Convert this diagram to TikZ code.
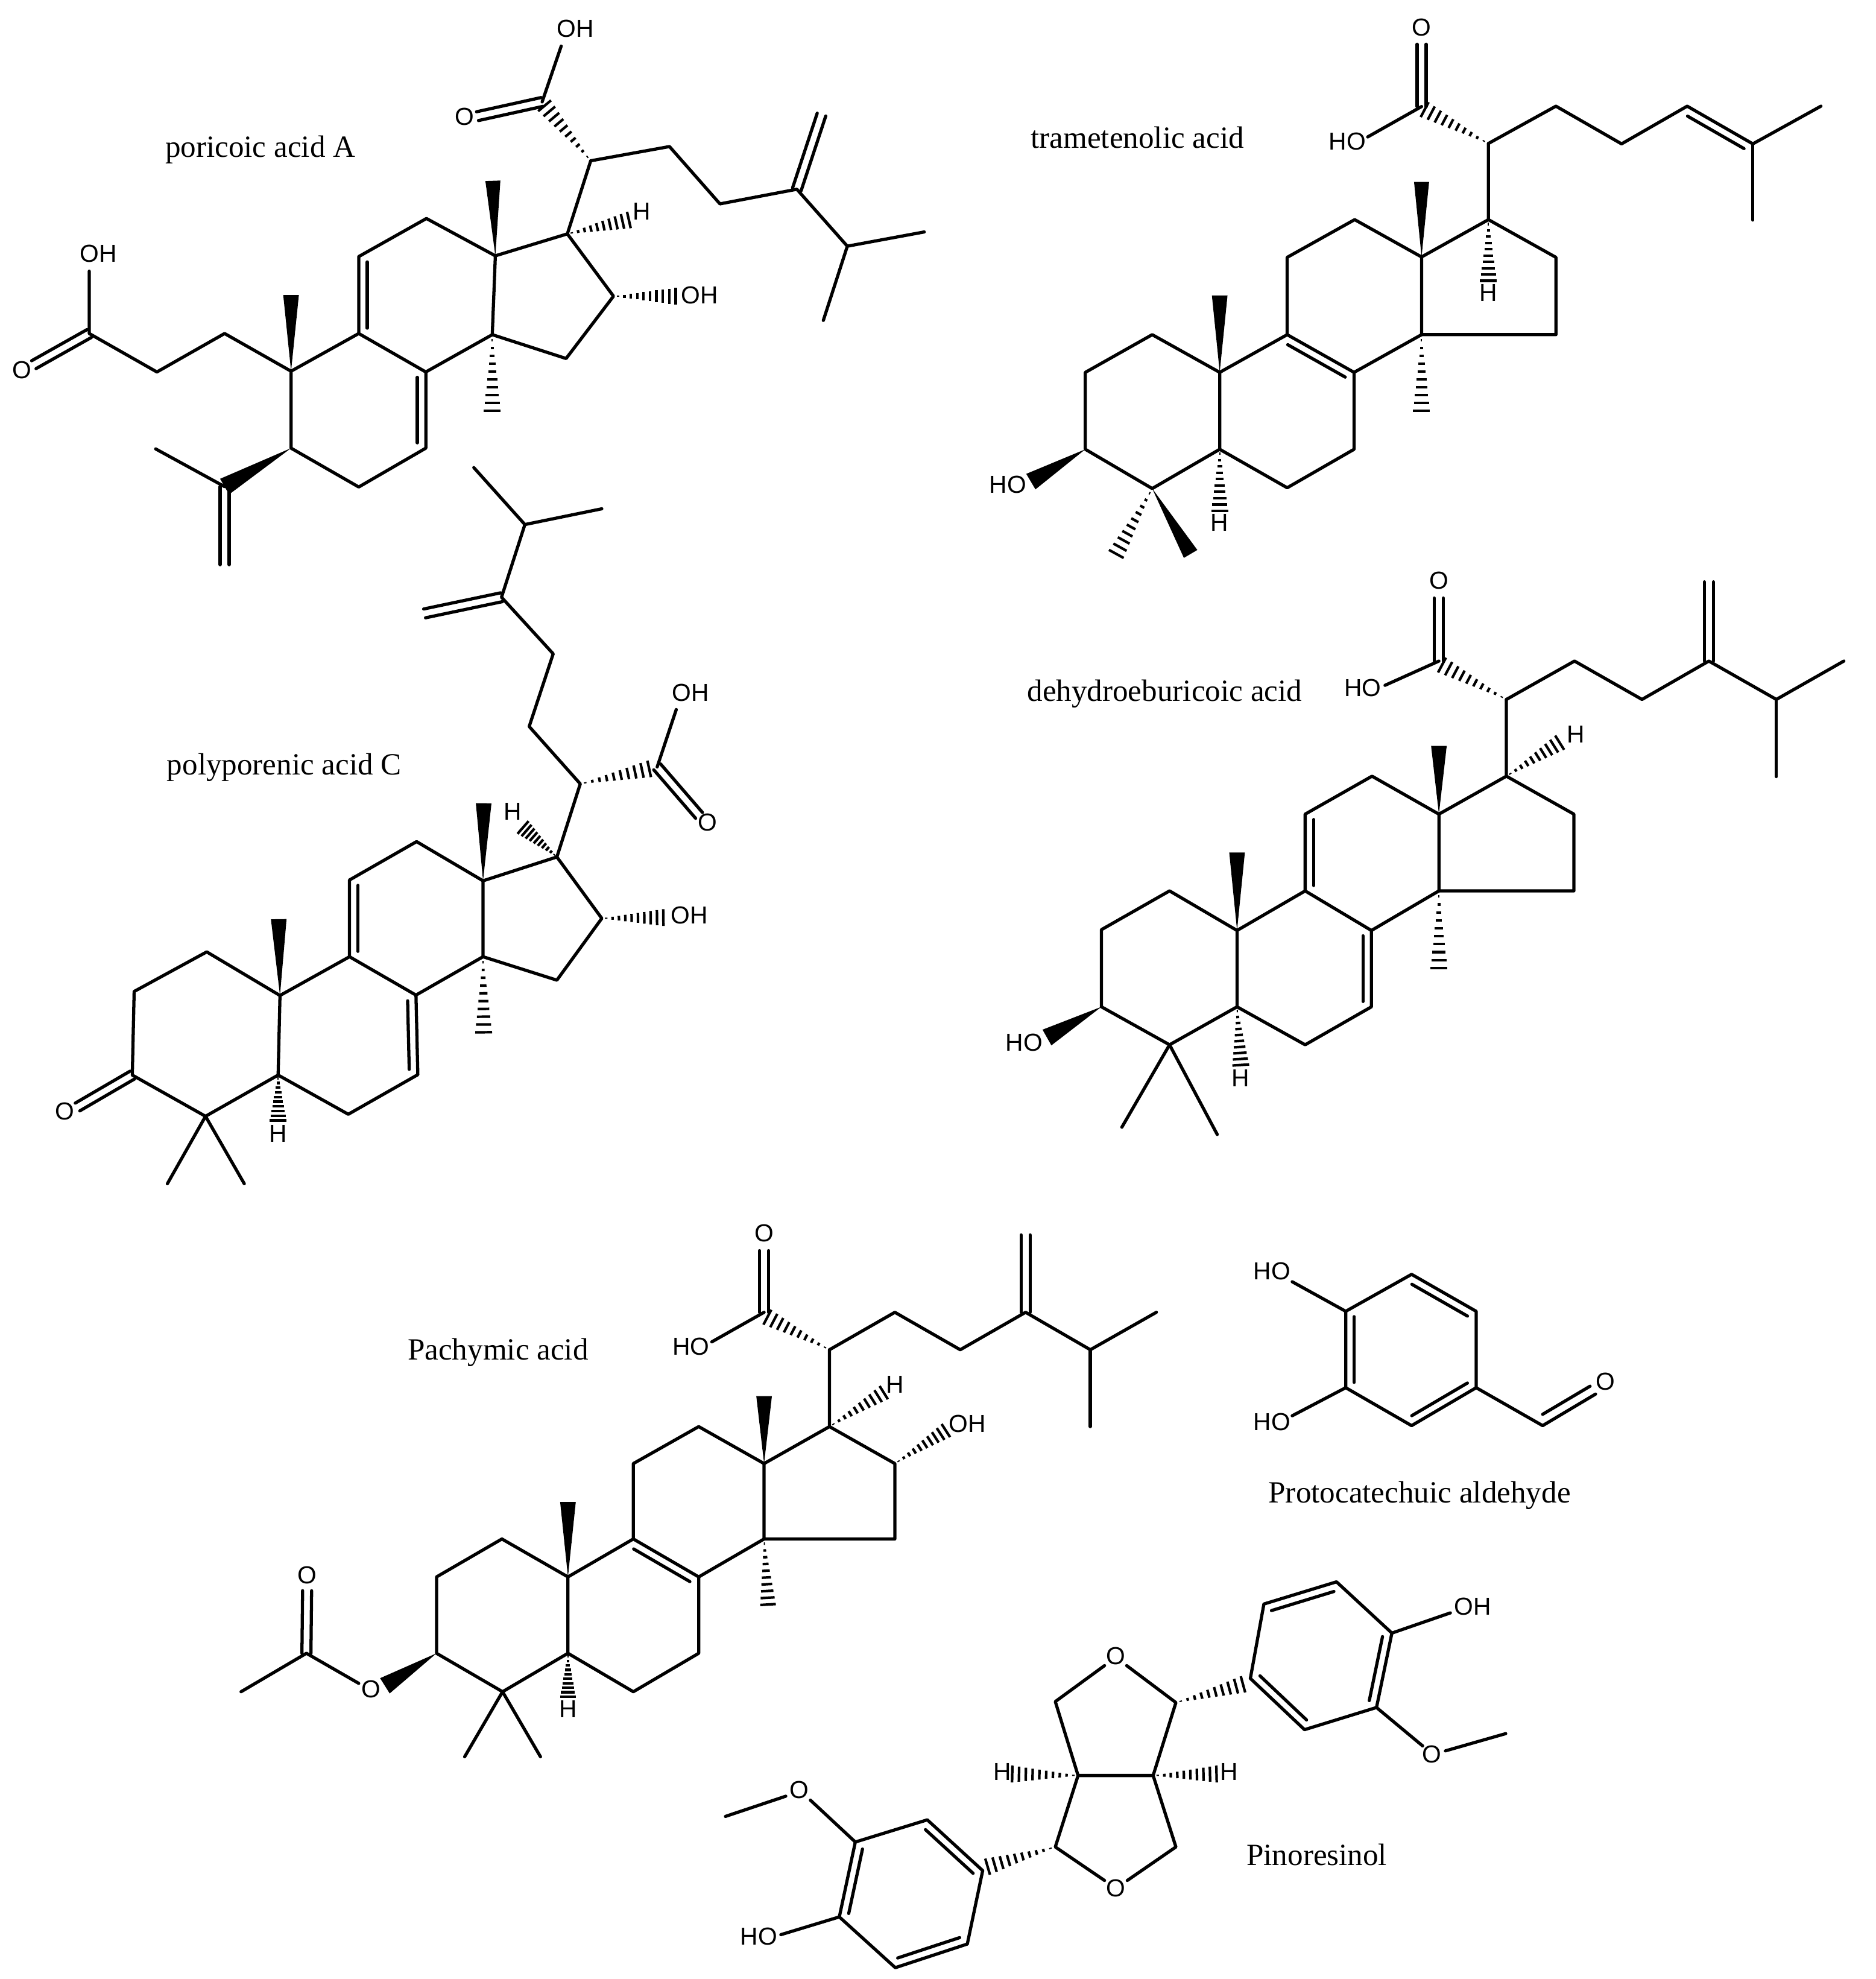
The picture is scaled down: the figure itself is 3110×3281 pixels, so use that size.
\documentclass[tikz,border=0pt]{standalone}
\usepackage{fontspec}
\setmainfont{Liberation Serif}
\setsansfont{Liberation Sans}
\usetikzlibrary{calc}
\tikzset{
  bond/.style={line width=3pt,line cap=round,line join=round,black},
  hashline/.style={line width=2.4pt,black},
  atomlab/.style={inner sep=0pt,font=\fontsize{23.2pt}{24pt}\selectfont\sffamily},
  complab/.style={inner sep=0pt,anchor=base,font=\fontsize{29.1pt}{30pt}\selectfont\rmfamily},
}
\newcommand\setzoom[4]{\def\ox{#1}\def\oy{#2}\def\sx{#3}\def\sy{#4}}
\newcommand\atoms[1]{\foreach \nm/\x/\y in {#1}{\coordinate (\nm) at ({\ox+\x*\sx},{\oy+\y*\sy});}}
\newcommand\labs[1]{\foreach \nm/\x/\y/\lbl in {#1}{\node[atomlab] (\nm) at ({\ox+\x*\sx},{\oy+\y*\sy}) {\lbl};}}
\newcommand\hashb[3]{\foreach \ii in {1,...,10}{%
  \pgfmathsetmacro\hf{(\ii-.3)/9.7}\pgfmathsetmacro\hw{\hf*#3*.2835}%
  \coordinate (tmp) at ($(#1)!\hf!(#2)$);
  \draw[hashline] ($(tmp)!\hw pt!90:(#1)$) -- ($(tmp)!\hw pt!-90:(#1)$);}}
\newcommand\wdg[3]{\pgfmathsetmacro\hw{#3*.2835}%
  \fill[black,line join=round] ($(#2)!\hw pt!90:(#1)$) -- (#1) -- ($(#2)!\hw pt!-90:(#1)$) -- cycle;}
\newcommand\dblc[2]{%
  \draw[bond] ($(#1)!4.25pt!90:(#2)$) -- ($(#2)!4.25pt!-90:(#1)$);
  \draw[bond] ($(#1)!4.25pt!-90:(#2)$) -- ($(#2)!4.25pt!90:(#1)$);}
\newcommand\inn[3]{%
  \draw[bond] ($(#1)!.07!(#2)!8pt!#3:(#2)$) -- ($(#2)!.07!(#1)!8pt!-#3:(#1)$);}
\begin{document}
\begin{tikzpicture}[x=0.02cm,y=-0.02cm]
\useasboundingbox (0,0) rectangle (3110,3281);
\fill[white] (0,0) rectangle (3110,3281);

% ---------- poricoic acid A
\begin{scope}[name prefix=pa-]
\setzoom{0}{0}{1.02041}{.63776}
\atoms{c/881/265,oh/912/120,oe/776/302,d/960/418,hc/885/275,e/1088/381,f/1170/530,g/1295/492,h/1335/298,i/1377/640,j/1502/603,k/1338/833,l/922/608,hh/1022/572,m/997/770,mo/1098/770,n/920/932,o/800/870,p/805/665,pm/801/470,q/693/568,r/583/667,s/583/867,t/692/967,om/800/1068,u/692/1165,v/583/1266,w/473/1165,x/473/965,xm/473/767,y/365/867,z/255/967,c2/145/867,oh2/145/705,oe2/55/948,aa/365/1265,ab/253/1167,ac/365/1468}
\labs{l1/935/75/OH,l2/755/303/O,l3/1043/550/H,l4/1137/768/OH,l5/160/660/OH,l6/36/962/O}
\draw[bond] (oh)--(c);
\dblc{c}{oe}
\hashb{d}{hc}{28}
\draw[bond] (d)--(e)--(f)--(g)--(i)--(j);
\dblc{g}{h}
\draw[bond] (i)--(k);
\draw[bond] (d)--(l)--(m)--(n)--(o)--(p)--(l);
\hashb{l}{hh}{28}
\hashb{m}{mo}{28}
\wdg{p}{pm}{25}
\draw[bond] (p)--(q)--(r)--(s)--(t)--(u)--(v)--(w)--(x)--(s);
\inn{r}{s}{90}
\inn{t}{u}{-90}
\draw[bond] (t)--(o);
\hashb{o}{om}{28}
\wdg{x}{xm}{26}
\draw[bond] (x)--(y)--(z)--(c2)--(oh2);
\dblc{c2}{oe2}
\wdg{w}{aa}{30}
\draw[bond] (aa)--(ab);
\dblc{aa}{ac}
\node[complab] (name) at ({423*\sx},{408*\sy}) {poricoic acid A};
\end{scope}

% ---------- trametenolic acid
\begin{scope}[name prefix=ta-]
\setzoom{1500}{0}{1.02679}{.63776}
\atoms{c/835/277,oe/835/115,oh/748/356,d/943/373,hc/840/285,e/1052/276,f/1158/374,g/1264/276,h/1370/374,h1/1480/276,h2/1370/572,l/943/571,lh/943/730,m/1052/669,n/1052/870,o/835/870,p/835/668,pm/835/473,q/727/571,r/618/669,s/618/870,t/726/968,om/835/1068,u/726/1168,v/618/1268,w/509/1168,x/509/968,xm/509/768,y/400/870,z/292/968,aa/292/1168,bb/400/1270,ho/204/1252,bm1/342/1440,bm2/462/1440,wh/509/1328}
\labs{l1/835/72/O,l2/715/367/HO,l3/943/762/H,l4/167/1260/HO,l5/509/1358/H}
\dblc{c}{oe}
\draw[bond] (oh)--(c);
\hashb{d}{hc}{28}
\draw[bond] (d)--(e)--(f)--(g)--(h)--(h1);
\inn{g}{h}{-90}
\draw[bond] (h)--(h2);
\draw[bond] (d)--(l)--(m)--(n)--(o)--(p)--(l);
\hashb{l}{lh}{28}
\wdg{p}{pm}{25}
\draw[bond] (p)--(q)--(r)--(s)--(t)--(u)--(v)--(w)--(x)--(s);
\inn{s}{t}{-90}
\draw[bond] (t)--(o);
\hashb{o}{om}{28}
\wdg{x}{xm}{26}
\draw[bond] (x)--(y)--(z)--(aa)--(bb)--(w);
\wdg{aa}{ho}{30}
\hashb{bb}{bm1}{28}
\wdg{bb}{bm2}{26}
\hashb{w}{wh}{28}
\node[complab] (name) at ({\ox+376*\sx},{385*\sy}) {trametenolic acid};
\end{scope}

% ---------- polyporenic acid C
\begin{scope}[name prefix=pc-]
\setzoom{0}{950}{1.02041}{.66964}
\atoms{i1/770/-261,i2/853/-120,i3/978/-159,a/815/60,ae/690/100,b/899/200,bb2/860/380,d/943/522,hc/1055/485,c/1068/480,oh/1099/338,oe/1136/600,l/905/703,lh/850/630,m/978/855,mo/1078/853,n/905/1008,o/785/950,p/785/762,pm/786/570,q/677/665,r/568/760,s/568/950,t/676/1045,om/786/1137,u/679/1242,v/566/1340,w/452/1243,wh/452/1355,x/455/1046,xm/453/857,y/336/938,z/218/1036,aa/215/1243,oe2/126/1322,bb/334/1345,b1/272/1512,b2/397/1512}
\labs{l1/1122/297/OH,l2/1150/618/O,l3/833/590/H,l4/1120/848/OH,l5/105/1332/O,l6/452/1388/H}
\draw[bond] (i1)--(i2)--(i3);
\draw[bond] (i2)--(a)--(b)--(bb2)--(d)--(l)--(m)--(n)--(o)--(p)--(l);
\dblc{a}{ae}
\hashb{d}{hc}{28}
\draw[bond] (c)--(oh);
\dblc{c}{oe}
\hashb{l}{lh}{28}
\hashb{m}{mo}{28}
\wdg{p}{pm}{26}
\draw[bond] (p)--(q)--(r)--(s)--(t)--(u)--(v)--(w)--(x)--(s);
\inn{r}{s}{90}
\inn{t}{u}{-90}
\draw[bond] (t)--(o);
\hashb{o}{om}{28}
\wdg{x}{xm}{26}
\draw[bond] (x)--(y)--(z)--(aa)--(bb)--(w);
\dblc{aa}{oe2}
\draw[bond] (b1)--(bb)--(b2);
\hashb{w}{wh}{28}
\node[complab] (name) at ({462*\sx},{\oy+500*\sy}) {polyporenic acid C};
\end{scope}

% ---------- dehydroeburicoic acid
\begin{scope}[name prefix=da-]
\setzoom{1500}{950}{1.02679}{.66964}
\atoms{c/863/218,oe/863/62,oh/776/278,d/972/313,hc/868/228,e/1082/218,f/1191/313,g/1299/218,ge/1299/22,h/1408/313,h1/1517/218,h2/1408/504,l/972/503,lh/1058/420,m/1081/597,n/1081/787,o/863/787,p/863/597,pm/863/428,q/755/503,r/647/597,s/647/787,t/754/885,om/863/978,u/754/1074,v/647/1168,w/537/1074,x/537/885,xm/537/692,y/428/787,z/318/883,aa/318/1074,bb/428/1168,ho/230/1150,b1/351/1372,b2/505/1390,wh/543/1218}
\labs{l1/863/18/O,l2/740/285/HO,l3/1084/400/H,l4/193/1162/HO,l5/543/1250/H}
\dblc{c}{oe}
\draw[bond] (oh)--(c);
\hashb{d}{hc}{28}
\draw[bond] (d)--(e)--(f)--(g)--(h)--(h1);
\dblc{g}{ge}
\draw[bond] (h)--(h2);
\draw[bond] (d)--(l)--(m)--(n)--(o)--(p)--(l);
\hashb{l}{lh}{28}
\wdg{p}{pm}{26}
\draw[bond] (p)--(q)--(r)--(s)--(t)--(u)--(v)--(w)--(x)--(s);
\inn{r}{s}{90}
\inn{t}{u}{-90}
\draw[bond] (t)--(o);
\hashb{o}{om}{28}
\wdg{x}{xm}{26}
\draw[bond] (x)--(y)--(z)--(aa)--(bb)--(w);
\wdg{aa}{ho}{30}
\draw[bond] (b1)--(bb)--(b2);
\hashb{w}{wh}{28}
\node[complab] (name) at ({\ox+420*\sx},{\oy+318*\sy}) {dehydroeburicoic acid};
\end{scope}

% ---------- Pachymic acid
\begin{scope}[name prefix=pm-]
\setzoom{300}{2000}{1.08418}{.81696}
\atoms{c/892/215,oe/892/90,oh/812/275,d/992/291,hc/897/225,e/1092/215,f/1192/291,g/1292/215,ge/1292/58,h/1391/291,h1/1492/215,h2/1391/447,l/992/447,lh/1075/378,m/1092/522,mo/1170/455,n/1092/675,o/892/675,p/892/522,pm/892/385,q/792/447,r/692/522,s/692/675,t/792/752,om/898/808,u/792/907,v/692/985,w/592/907,wh/592/995,x/592/752,xm/592/600,y/491/675,z/391/752,aa/391/907,bb/492/985,ao/312/973,oa/272/968,ac/192/907,ad/92/985,ae/193/780,b1/434/1117,b2/550/1117}
\labs{l1/892/55/O,l2/780/285/HO,l3/1092/362/H,l4/1203/441/OH,l5/291/980/O,l6/193/748/O,l7/592/1020/H}
\dblc{c}{oe}
\draw[bond] (oh)--(c);
\hashb{d}{hc}{28}
\draw[bond] (d)--(e)--(f)--(g)--(h)--(h1);
\dblc{g}{ge}
\draw[bond] (h)--(h2);
\draw[bond] (d)--(l)--(m)--(n)--(o)--(p)--(l);
\hashb{l}{lh}{26}
\hashb{m}{mo}{26}
\wdg{p}{pm}{26}
\draw[bond] (p)--(q)--(r)--(s)--(t)--(u)--(v)--(w)--(x)--(s);
\inn{s}{t}{-90}
\draw[bond] (t)--(o);
\hashb{o}{om}{26}
\wdg{x}{xm}{26}
\draw[bond] (x)--(y)--(z)--(aa)--(bb)--(w);
\wdg{aa}{ao}{30}
\draw[bond] (oa)--(ac)--(ad);
\dblc{ac}{ae}
\draw[bond] (b1)--(bb)--(b2);
\hashb{w}{wh}{26}
\node[complab] (name) at ({\ox+485*\sx},{\oy+312*\sy}) {Pachymic acid};
\end{scope}

% ---------- Protocatechuic aldehyde
\begin{scope}[name prefix=pr-]
\setzoom{1150}{2000}{1.02041}{.81696}
\atoms{a/1060/213,b/1167/138,c/1272/213,d/1272/368,e/1167/445,f/1060/368,h1/973/153,h2/973/425,g/1380/445,oe/1466/381,ui/1380/422,uo/1457/365}
\labs{l1/940/132/HO,l2/940/438/HO,l3/1482/355/O}
\draw[bond] (a)--(b)--(c)--(d)--(e)--(f)--(a);
\inn{a}{f}{90}
\inn{b}{c}{-90}
\inn{d}{e}{-90}
\draw[bond] (h1)--(a);
\draw[bond] (h2)--(f);
\draw[bond] (d)--(g)--(oe);
\draw[bond] (ui)--(uo);
\node[complab] (name) at ({\ox+1180*\sx},{\oy+602*\sy}) {Protocatechuic aldehyde};
\end{scope}

% ---------- Pinoresinol
\begin{scope}[name prefix=pi-]
\setzoom{1150}{2000}{1.02041}{.81696}
\atoms{ot1/668/932,ot2/704/932,ob1/668/1368,ob2/705/1368,a/588/1005,b/784/1007,c/625/1155,d/747/1155,e/588/1300,f/784/1300,hl/518/1152,hr/850/1152,br/893/970,r1/905/958,r2/927/807,r3/1045/762,r4/1135/866,r5/1110/1017,r6/993/1062,roh/1230/825,ro/1185/1095,rm1/1222/1105,rm2/1320/1070,el/478/1340,s1/470/1348,s2/380/1245,s3/263/1290,s4/237/1442,s5/328/1545,s6/445/1497,so/190/1205,sm1/150/1197,sm2/52/1238,soh/142/1478}
\labs{l1/686/912/O,l2/686/1384/O,l3/502/1147/H,l4/870/1147/H,l5/1266/812/OH,l6/1200/1112/O,l7/172/1184/O,l8/106/1482/HO}
\draw[bond] (ot1)--(a)--(c)--(d)--(b)--(ot2);
\draw[bond] (c)--(e)--(ob1);
\draw[bond] (d)--(f)--(ob2);
\hashb{c}{hl}{28}
\hashb{d}{hr}{28}
\hashb{b}{br}{28}
\hashb{e}{el}{28}
\draw[bond] (r1)--(r2)--(r3)--(r4)--(r5)--(r6)--(r1);
\inn{r1}{r6}{90}
\inn{r2}{r3}{-90}
\inn{r4}{r5}{-90}
\draw[bond] (r4)--(roh);
\draw[bond] (r5)--(ro);
\draw[bond] (rm1)--(rm2);
\draw[bond] (s1)--(s2)--(s3)--(s4)--(s5)--(s6)--(s1);
\inn{s1}{s2}{90}
\inn{s3}{s4}{90}
\inn{s5}{s6}{90}
\draw[bond] (s3)--(so);
\draw[bond] (sm1)--(sm2);
\draw[bond] (s4)--(soh);
\node[complab] (name) at ({\ox+1013*\sx},{\oy+1337*\sy}) {Pinoresinol};
\end{scope}
\end{tikzpicture}
\end{document}
